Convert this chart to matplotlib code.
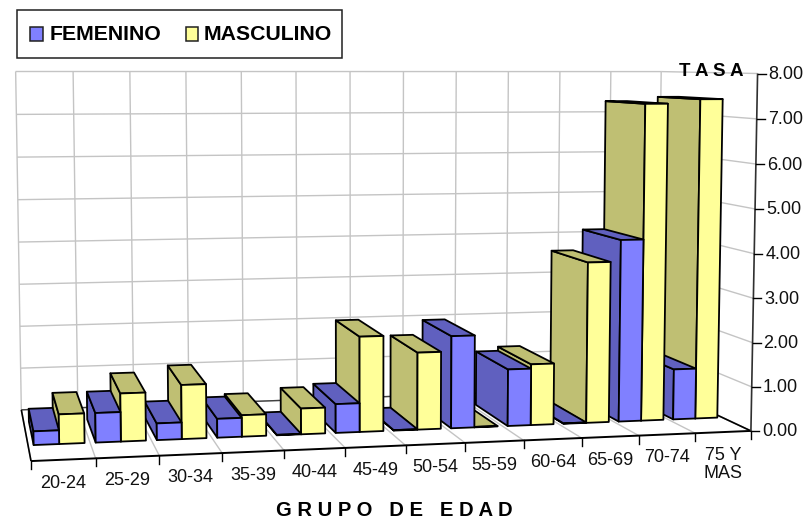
import numpy as np
import matplotlib
matplotlib.use("Agg")
import matplotlib.pyplot as plt
from matplotlib.patches import Polygon, Rectangle

plt.rcParams['font.family'] = ['Liberation Sans', 'DejaVu Sans']

categorias = ["20-24", "25-29", "30-34", "35-39", "40-44", "45-49",
              "50-54", "55-59", "60-64", "65-69", "70-74", "75 Y\nMAS"]
femenino = [0.30, 0.65, 0.37, 0.42, 0.01, 0.65, 0.01, 2.10, 1.30, 0.01, 4.20, 1.17]
masculino = [0.65, 1.06, 1.20, 0.48, 0.58, 2.15, 1.75, 0.01, 1.40, 3.70, 7.30, 7.40]
escala = [0, 1, 2, 3, 4, 5, 6, 7, 8]
etiquetas_y = ["0.00", "1.00", "2.00", "3.00", "4.00", "5.00", "6.00", "7.00", "8.00"]

AZUL, AZUL_OSC = "#8080FF", "#6060BF"
AMAR, AMAR_OSC = "#FFFF99", "#BFBF73"
GRIS = "#C4C4C4"

# puntos de calibracion de la vista 3D: (categoria, valor, fondo) -> pixel
frente = [31, 96, 159, 222, 284, 345, 405, 465, 523, 582, 639, 695, 751]
fondo = [16, 73, 130, 186, 241, 296, 350, 403, 456, 508, 560, 611, 661]
calib = [((0, 0, 1), (22, 408)), ((12, 0, 1), (657, 389)), ((12, 8, 0), (758, 74)),
         ((12, 8, 0), (758, 74)), ((12, 4, 0), (754.5, 253))]
for i, px in enumerate(frente):
    calib.append(((i, 0, 0), (px, 462 - 32 * (px - 31) / 720)))
for i, px in enumerate(fondo):
    calib.append(((i, 8, 1), (px, 71.5)))

filas = []
for (x, h, z), (u, v) in calib:
    p = [x / 12, h / 8, z, 1]
    u, v = u / 800, v / 500
    filas.append(p + [0, 0, 0, 0] + [-u * c for c in p])
    filas.append([0, 0, 0, 0] + p + [-v * c for c in p])
M = np.linalg.svd(np.array(filas, dtype=float))[2][-1].reshape(3, 4)


def proy(x, h, z):
    w = M @ np.array([x / 12, h / 8, z, 1])
    return w[0] / w[2] * 800, w[1] / w[2] * 500


fig = plt.figure(figsize=(8.07, 5.21), dpi=100)
ax = fig.add_axes([0, 0, 1, 1])
ax.set_xlim(0, 807)
ax.set_ylim(521, 0)
ax.axis("off")


def linea(a, b, color=GRIS, lw=1.0, zo=1):
    pa, pb = proy(*a), proy(*b)
    ax.plot([pa[0], pb[0]], [pa[1], pb[1]], color=color, lw=lw, zorder=zo, solid_capstyle="butt")


# paredes y piso
n = len(categorias)
for v in escala:
    linea((0, v, 1), (n, v, 1))
    linea((n, v, 1), (n, v, 0))
for i in range(n + 1):
    linea((i, 0, 1), (i, 8, 1))
    linea((i, 0, 0), (i, 0, 1))
linea((0, 0, 1), (n, 0, 1), "#404040", 1.0)
linea((0, 0, 0), (0, 0, 1), "black", 1.2, 2)
linea((0, 0, 0), (n, 0, 0), "black", 1.4, 2)
linea((n, 0, 0), (n, 0, 1), "black", 1.2, 2)
linea((n, 0, 0), (n, 8, 0), "#303030", 1.2, 2)


def caja(x0, x1, z0, z1, h, c1, c2, zo):
    cara = lambda pts: Polygon([proy(*p) for p in pts], closed=True, facecolor=None,
                               edgecolor="black", lw=1.3, joinstyle="round", zorder=zo)
    izq = cara([(x0, 0, z0), (x0, 0, z1), (x0, h, z1), (x0, h, z0)])
    izq.set_facecolor(c2)
    tapa = cara([(x0, h, z0), (x0, h, z1), (x1, h, z1), (x1, h, z0)])
    tapa.set_facecolor(c2)
    frontal = cara([(x0, 0, z0), (x1, 0, z0), (x1, h, z0), (x0, h, z0)])
    frontal.set_facecolor(c1)
    for f in (izq, tapa, frontal):
        ax.add_patch(f)


# de derecha a izquierda: las caras laterales tapan a la barra anterior
MARGEN, ANCHO, Z0, Z1 = 0.09, 0.41, 0.28, 0.74
zo = 3
for i in range(n - 1, -1, -1):
    caja(i + MARGEN + ANCHO, i + MARGEN + 2 * ANCHO, Z0, Z1, masculino[i], AMAR, AMAR_OSC, zo)
    zo += 1
    caja(i + MARGEN, i + MARGEN + ANCHO, Z0, Z1, femenino[i], AZUL, AZUL_OSC, zo)
    zo += 1

# marcas y textos
for i in range(n + 1):
    u, v = proy(i, 0, 0)
    ax.plot([u, u], [v, v + 8], color="black", lw=1.0, zorder=2)
for i, c in enumerate(categorias):
    u, v = proy(i + 0.5, 0, 0)
    ax.text(u, v + 15, c, ha="center", va="top", fontsize=13,
            color="#111111", linespacing=1.1)
for v, t in zip(escala, etiquetas_y):
    u, w = proy(n, v, 0)
    ax.plot([u, u + 8], [w, w], color="black", lw=1.0, zorder=2)
    ax.text(u + 11, w + 1, t, ha="left", va="center", fontsize=13, color="#111111")

ax.text(711.5, 72, "T A S A", ha="center", va="center", fontsize=13.5, fontweight="bold")
ax.text(394.5, 516, "G R U P O   D E   E D A D", ha="center", va="baseline", fontsize=14.6,
        fontweight="bold")

# leyenda
ax.add_patch(Rectangle((17, 10), 325, 48, facecolor="white", edgecolor="#202020", lw=1.1))
ax.add_patch(Rectangle((30, 27), 13, 14, facecolor=AZUL, edgecolor="#202020", lw=1.1))
ax.add_patch(Rectangle((186, 27), 12, 14, facecolor=AMAR, edgecolor="#202020", lw=1.1))
ax.text(50, 34, "FEMENINO", ha="left", va="center", fontsize=15.3, fontweight="bold")
ax.text(204, 34, "MASCULINO", ha="left", va="center", fontsize=15.3, fontweight="bold")

fig.savefig("out.png", dpi=100)
